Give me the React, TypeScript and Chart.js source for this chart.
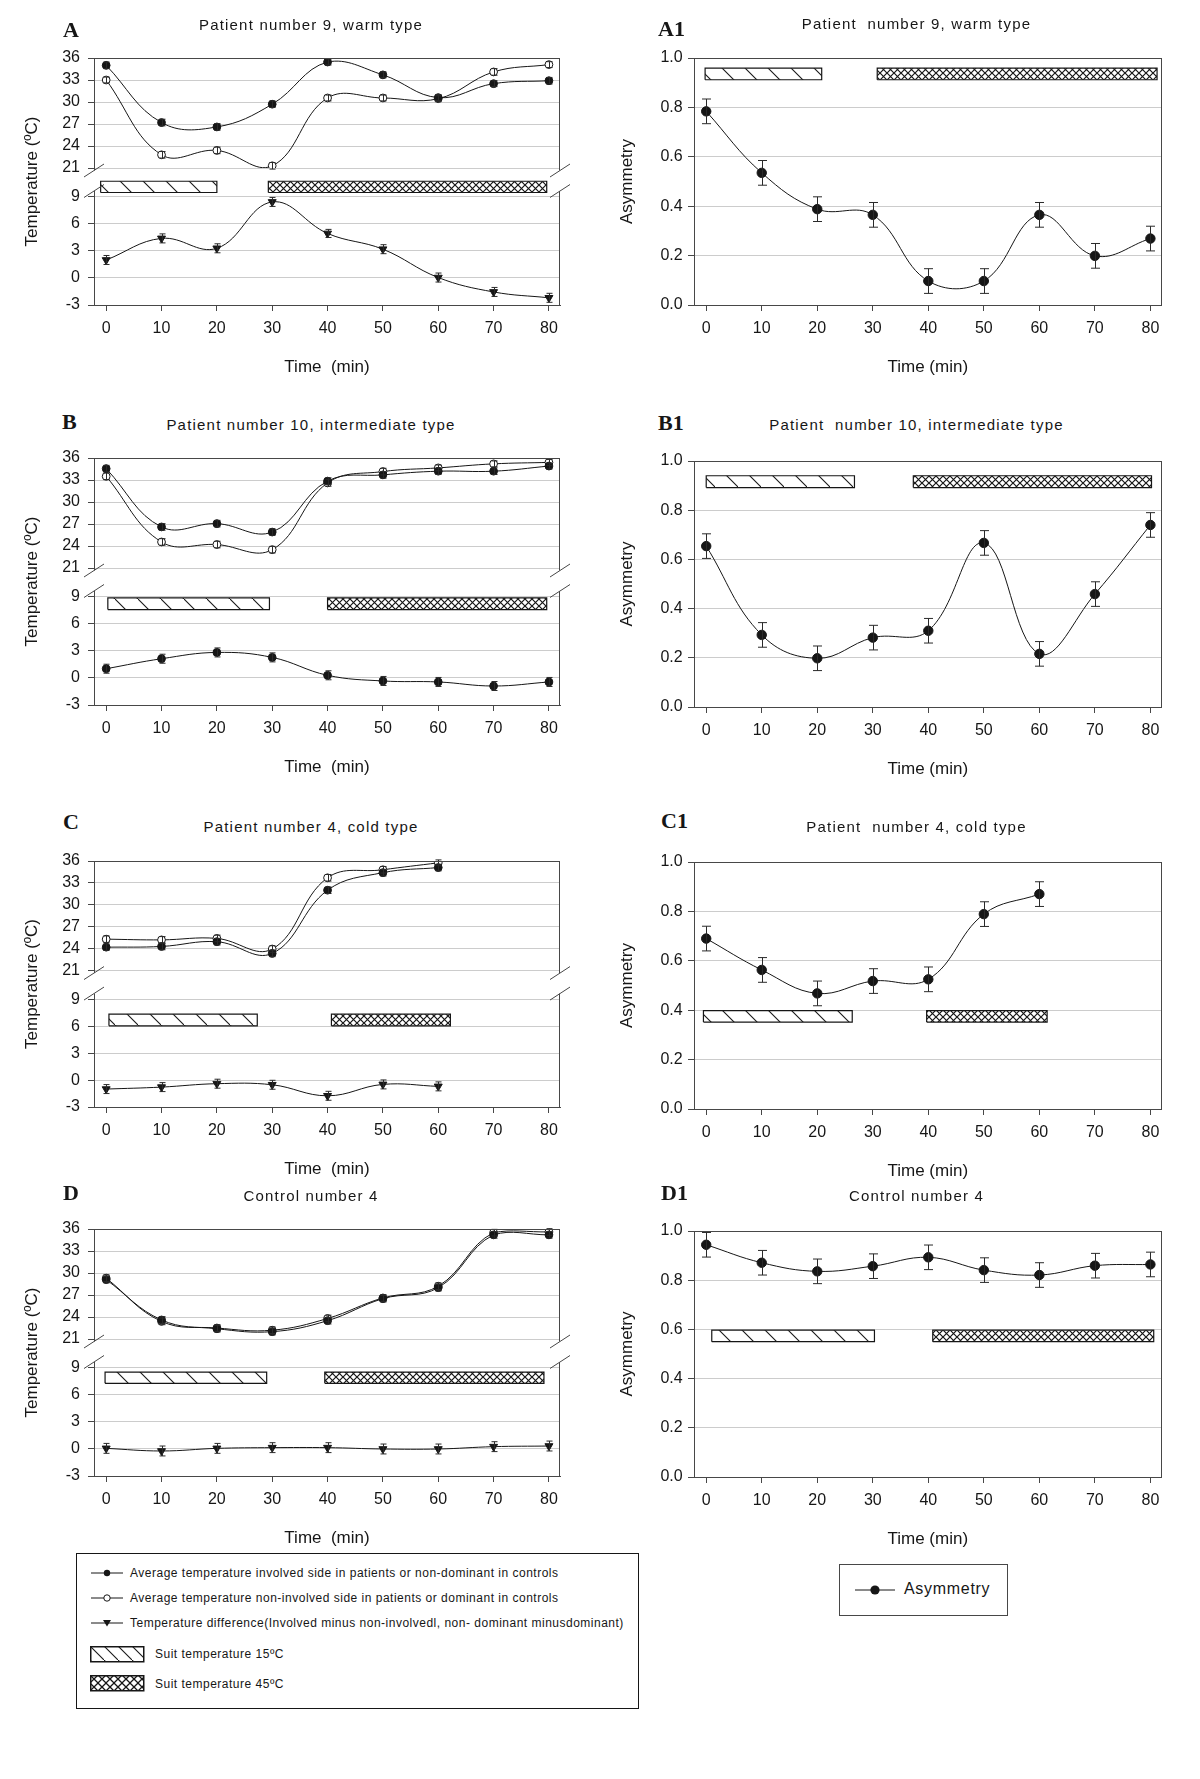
import React, { useEffect, useRef } from 'react';
import { Chart, registerables } from 'chart.js';

Chart.register(...registerables);

const FONT = "'Liberation Sans', Arial, Helvetica, sans-serif";
const SERIF = "'Liberation Serif', 'Times New Roman', Times, serif";
const INK = '#161616';
const AXIS = '#474747';
const GRID = '#cccccc';

Chart.defaults.font.family = FONT;

/* ------------------------------------------------------------------ */
/* Data                                         */
/* ------------------------------------------------------------------ */
const TIME = [0, 10, 20, 30, 40, 50, 60, 70, 80];
const TIME_C = [0, 10, 20, 30, 40, 50, 60];
const X_TICKS = [0, 10, 20, 30, 40, 50, 60, 70, 80];
const TEMP_TICKS_UPPER = [21, 24, 27, 30, 33, 36];
const TEMP_TICKS_LOWER = [-3, 0, 3, 6, 9];
const ASYM_TICKS = [0, 0.2, 0.4, 0.6, 0.8, 1.0];

// Panel A / A1 – patient 9, warm type
const A_INVOLVED = [35.0, 27.2, 26.6, 29.7, 35.45, 33.7, 30.6, 32.5, 32.9];
const A_NON_INVOLVED = [33.0, 22.8, 23.4, 21.3, 30.55, 30.55, 30.45, 34.1, 35.1];
const A_DIFFERENCE = [2.0, 4.4, 3.3, 8.45, 4.95, 3.2, 0.05, -1.55, -2.2];
const A_INVOLVED_SEM = [0.45, 0.45, 0.45, 0.45, 0.4, 0.4, 0.4, 0.4, 0.45];
const A_NON_INVOLVED_SEM = [0.4, 0.45, 0.45, 0.45, 0.4, 0.4, 0.4, 0.45, 0.4];
const A_DIFFERENCE_SEM = [0.5, 0.5, 0.5, 0.5, 0.45, 0.5, 0.5, 0.5, 0.5];
const A1_ASYMMETRY = [0.784, 0.535, 0.388, 0.365, 0.097, 0.097, 0.365, 0.199, 0.269];
const A1_ASYMMETRY_SEM = [0.05, 0.05, 0.05, 0.05, 0.05, 0.05, 0.05, 0.05, 0.05];
const A_SUIT_15 = [-1, 20];
const A_SUIT_45 = [29.3, 79.6];
const A1_SUIT_15 = [-0.2, 20.8];
const A1_SUIT_45 = [30.8, 81.2];

// Panel B / B1 – patient 10, intermediate type
const B_INVOLVED = [34.55, 26.6, 27.05, 25.9, 32.85, 33.7, 34.2, 34.2, 34.9];
const B_NON_INVOLVED = [33.5, 24.55, 24.2, 23.5, 32.6, 34.15, 34.65, 35.2, 35.4];
const B_DIFFERENCE = [1.03, 2.14, 2.84, 2.29, 0.3, -0.33, -0.44, -0.89, -0.44];
const B_INVOLVED_SEM = [0.45, 0.45, 0.45, 0.45, 0.45, 0.45, 0.45, 0.45, 0.4];
const B_NON_INVOLVED_SEM = [0.45, 0.45, 0.45, 0.45, 0.45, 0.45, 0.4, 0.4, 0.4];
const B_DIFFERENCE_SEM = [0.5, 0.5, 0.5, 0.5, 0.5, 0.5, 0.5, 0.5, 0.5];
const B1_ASYMMETRY = [0.654, 0.293, 0.198, 0.282, 0.31, 0.667, 0.216, 0.459, 0.74];
const B1_ASYMMETRY_SEM = [0.05, 0.05, 0.05, 0.05, 0.05, 0.05, 0.05, 0.05, 0.05];
const B_SUIT_15 = [0.3, 29.5];
const B_SUIT_45 = [40.0, 79.6];
const B1_SUIT_15 = [0.0, 26.7];
const B1_SUIT_45 = [37.3, 80.2];

// Panel C / C1 – patient 4, cold type
const C_INVOLVED = [24.2, 24.3, 24.95, 23.35, 32.0, 34.4, 35.1];
const C_NON_INVOLVED = [25.3, 25.2, 25.4, 23.95, 33.7, 34.8, 35.75];
const C_DIFFERENCE = [-1.0, -0.78, -0.4, -0.52, -1.75, -0.48, -0.7];
const C_INVOLVED_SEM = [0.45, 0.45, 0.45, 0.45, 0.45, 0.45, 0.45];
const C_NON_INVOLVED_SEM = [0.45, 0.45, 0.45, 0.45, 0.45, 0.45, 0.4];
const C_DIFFERENCE_SEM = [0.5, 0.5, 0.5, 0.5, 0.5, 0.5, 0.5];
const C1_ASYMMETRY = [0.69, 0.563, 0.468, 0.518, 0.525, 0.789, 0.87];
const C1_ASYMMETRY_SEM = [0.05, 0.05, 0.05, 0.05, 0.05, 0.05, 0.05];
const C_SUIT_15 = [0.5, 27.3];
const C_SUIT_45 = [40.7, 62.2];
const C1_SUIT_15 = [-0.5, 26.3];
const C1_SUIT_45 = [39.7, 61.4];

// Panel D / D1 – control 4
const D_INVOLVED = [29.1, 23.6, 22.4, 22.0, 23.5, 26.5, 28.0, 35.2, 35.2];
const D_NON_INVOLVED = [29.3, 23.4, 22.5, 22.2, 23.8, 26.6, 28.2, 35.5, 35.6];
const D_DIFFERENCE = [0.07, -0.22, 0.07, 0.15, 0.15, 0.0, 0.0, 0.26, 0.33];
const D_INVOLVED_SEM = [0.45, 0.45, 0.45, 0.45, 0.45, 0.45, 0.45, 0.45, 0.45];
const D_NON_INVOLVED_SEM = [0.45, 0.45, 0.45, 0.45, 0.45, 0.45, 0.45, 0.45, 0.45];
const D_DIFFERENCE_SEM = [0.55, 0.55, 0.55, 0.55, 0.55, 0.55, 0.55, 0.55, 0.55];
const D1_ASYMMETRY = [0.944, 0.871, 0.836, 0.857, 0.893, 0.841, 0.821, 0.859, 0.864];
const D1_ASYMMETRY_SEM = [0.05, 0.05, 0.05, 0.05, 0.05, 0.05, 0.05, 0.05, 0.05];
const D_SUIT_15 = [-0.2, 29.0];
const D_SUIT_45 = [39.5, 79.1];
const D1_SUIT_15 = [1.0, 30.3];
const D1_SUIT_45 = [40.8, 80.6];

const LEGEND_LABELS = [
  'Average temperature involved side in patients or non-dominant in controls',
  'Average temperature non-involved side in patients or dominant in controls',
  'Temperature difference(Involved minus non-involvedl, non- dominant minusdominant)',
  'Suit temperature 15ºC',
  'Suit temperature 45ºC',
];

/* ------------------------------------------------------------------ */
/* Layout                                                              */
/* ------------------------------------------------------------------ */
const X_MIN = -2.2;
const X_MAX = 82;
const TEMP_LOWER_MAX = 12.22;
const PAD_TOP = 20;
const X_AXIS_H = 75;

type TempSpec = {
  key: string;
  letter: string;
  title: string;
  time: number[];
  involved: number[];
  nonInvolved: number[];
  difference: number[];
  involvedErr: number[];
  nonInvolvedErr: number[];
  differenceErr: number[];
  diffMarker: 'triangle' | 'circle';
  suit15: number[];
  suit45: number[];
  plotTop: number;
  plotBottom: number;
  band: number[];
  titleY: number;
  letterX: number;
  letterY: number;
};

type AsymSpec = {
  key: string;
  letter: string;
  title: string;
  time: number[];
  values: number[];
  err: number[];
  suit15: number[];
  suit45: number[];
  plotTop: number;
  plotBottom: number;
  band: number[];
  titleY: number;
  letterX: number;
  letterY: number;
};

const TEMP_PANELS: TempSpec[] = [
  {
    key: 'A', letter: 'A', title: 'Patient number 9, warm type', time: TIME,
    involved: A_INVOLVED, nonInvolved: A_NON_INVOLVED, difference: A_DIFFERENCE,
    involvedErr: A_INVOLVED_SEM, nonInvolvedErr: A_NON_INVOLVED_SEM, differenceErr: A_DIFFERENCE_SEM,
    diffMarker: 'triangle', suit15: A_SUIT_15, suit45: A_SUIT_45,
    plotTop: 58, plotBottom: 305, band: [9.5, 10.75], titleY: 26, letterX: 63, letterY: 30,
  },
  {
    key: 'B', letter: 'B', title: 'Patient number 10, intermediate type', time: TIME,
    involved: B_INVOLVED, nonInvolved: B_NON_INVOLVED, difference: B_DIFFERENCE,
    involvedErr: B_INVOLVED_SEM, nonInvolvedErr: B_NON_INVOLVED_SEM, differenceErr: B_DIFFERENCE_SEM,
    diffMarker: 'circle', suit15: B_SUIT_15, suit45: B_SUIT_45,
    plotTop: 458, plotBottom: 705, band: [7.6, 8.9], titleY: 426, letterX: 62, letterY: 422,
  },
  {
    key: 'C', letter: 'C', title: 'Patient number 4, cold type', time: TIME_C,
    involved: C_INVOLVED, nonInvolved: C_NON_INVOLVED, difference: C_DIFFERENCE,
    involvedErr: C_INVOLVED_SEM, nonInvolvedErr: C_NON_INVOLVED_SEM, differenceErr: C_DIFFERENCE_SEM,
    diffMarker: 'triangle', suit15: C_SUIT_15, suit45: C_SUIT_45,
    plotTop: 861, plotBottom: 1107, band: [6.05, 7.35], titleY: 827.5, letterX: 63, letterY: 822,
  },
  {
    key: 'D', letter: 'D', title: 'Control number 4', time: TIME,
    involved: D_INVOLVED, nonInvolved: D_NON_INVOLVED, difference: D_DIFFERENCE,
    involvedErr: D_INVOLVED_SEM, nonInvolvedErr: D_NON_INVOLVED_SEM, differenceErr: D_DIFFERENCE_SEM,
    diffMarker: 'triangle', suit15: D_SUIT_15, suit45: D_SUIT_45,
    plotTop: 1229, plotBottom: 1476, band: [7.3, 8.55], titleY: 1196.5, letterX: 63, letterY: 1193,
  },
];

const ASYM_PANELS: AsymSpec[] = [
  {
    key: 'A1', letter: 'A1', title: 'Patient  number 9, warm type', time: TIME,
    values: A1_ASYMMETRY, err: A1_ASYMMETRY_SEM, suit15: A1_SUIT_15, suit45: A1_SUIT_45,
    plotTop: 58, plotBottom: 305, band: [0.912, 0.959], titleY: 24.5, letterX: 658, letterY: 29,
  },
  {
    key: 'B1', letter: 'B1', title: 'Patient  number 10, intermediate type', time: TIME,
    values: B1_ASYMMETRY, err: B1_ASYMMETRY_SEM, suit15: B1_SUIT_15, suit45: B1_SUIT_45,
    plotTop: 461, plotBottom: 707, band: [0.892, 0.94], titleY: 426, letterX: 658, letterY: 423,
  },
  {
    key: 'C1', letter: 'C1', title: 'Patient  number 4, cold type', time: TIME_C,
    values: C1_ASYMMETRY, err: C1_ASYMMETRY_SEM, suit15: C1_SUIT_15, suit45: C1_SUIT_45,
    plotTop: 862, plotBottom: 1109, band: [0.352, 0.398], titleY: 827.5, letterX: 661, letterY: 821,
  },
  {
    key: 'D1', letter: 'D1', title: 'Control number 4', time: TIME,
    values: D1_ASYMMETRY, err: D1_ASYMMETRY_SEM, suit15: D1_SUIT_15, suit45: D1_SUIT_45,
    plotTop: 1231, plotBottom: 1477, band: [0.55, 0.597], titleY: 1196.5, letterX: 661, letterY: 1193,
  },
];

/* ------------------------------------------------------------------ */
/* Patterns & plugins                                                  */
/* ------------------------------------------------------------------ */
type Patterns = { hatch: CanvasPattern | string; cross: CanvasPattern | string };

function makePatterns(): Patterns {
  const h = document.createElement('canvas');
  h.width = 23;
  h.height = 23;
  const hg = h.getContext('2d')!;
  hg.fillStyle = '#ffffff';
  hg.fillRect(0, 0, 23, 23);
  hg.strokeStyle = INK;
  hg.lineWidth = 1.1;
  hg.beginPath();
  hg.moveTo(-2, -2);
  hg.lineTo(25, 25);
  hg.stroke();

  const c = document.createElement('canvas');
  const s = 7;
  c.width = s;
  c.height = s;
  const cg = c.getContext('2d')!;
  cg.fillStyle = '#ffffff';
  cg.fillRect(0, 0, s, s);
  cg.strokeStyle = INK;
  cg.lineWidth = 1.2;
  cg.beginPath();
  cg.moveTo(-1, -1);
  cg.lineTo(s + 1, s + 1);
  cg.moveTo(s + 1, -1);
  cg.lineTo(-1, s + 1);
  cg.stroke();

  return {
    hatch: hg.createPattern(h, 'repeat') || '#fff',
    cross: cg.createPattern(c, 'repeat') || '#888',
  };
}

const errorBarsPlugin = {
  id: 'errorBars',
  afterDatasetsDraw(chart: any) {
    const ctx = chart.ctx;
    chart.data.datasets.forEach((ds: any, i: number) => {
      if (!ds.errors) return;
      const meta = chart.getDatasetMeta(i);
      const ys = chart.scales[meta.yAxisID];
      ctx.save();
      ctx.strokeStyle = '#2a2a2a';
      ctx.lineWidth = 1;
      meta.data.forEach((el: any, j: number) => {
        const v = ds.data[j].y;
        const e = ds.errors[j];
        const x = Math.round(el.x) + 0.5;
        const y1 = ys.getPixelForValue(v + e);
        const y2 = ys.getPixelForValue(v - e);
        const w = ds.capWidth / 2;
        ctx.beginPath();
        ctx.moveTo(x, y1);
        ctx.lineTo(x, y2);
        ctx.moveTo(x - w, y1);
        ctx.lineTo(x + w, y1);
        ctx.moveTo(x - w, y2);
        ctx.lineTo(x + w, y2);
        ctx.stroke();
      });
      ctx.restore();
    });
  },
};

function makeFramePlugin(withBreak: boolean) {
  return {
    id: 'frame',
    afterDraw(chart: any) {
      const { ctx, chartArea: a } = chart;
      ctx.save();
      ctx.strokeStyle = AXIS;
      ctx.lineWidth = 1;
      const top = Math.round(a.top) + 0.5;
      const right = Math.round(a.right) - 0.5;
      ctx.beginPath();
      ctx.moveTo(a.left, top);
      ctx.lineTo(a.right, top);
      ctx.stroke();
      if (!withBreak) {
        ctx.beginPath();
        ctx.moveTo(right, a.top);
        ctx.lineTo(right, a.bottom);
        ctx.stroke();
      } else {
        const y21 = chart.scales.yT.getPixelForValue(21);
        const c1 = y21 + 2.5;
        const c2 = y21 + 23;
        ctx.beginPath();
        ctx.moveTo(right, a.top);
        ctx.lineTo(right, c1);
        ctx.moveTo(right, c2);
        ctx.lineTo(right, a.bottom);
        ctx.stroke();
        ctx.fillStyle = '#ffffff';
        ctx.fillRect(a.left - 2, c1, 4, c2 - c1);
        ctx.beginPath();
        for (const x of [a.left, a.right]) {
          for (const c of [c1, c2]) {
            ctx.moveTo(x - 10, c + 6.5);
            ctx.lineTo(x + 10, c - 6.5);
          }
        }
        ctx.stroke();
      }
      ctx.restore();
    },
  };
}

/* ------------------------------------------------------------------ */
/* Chart configs                                                       */
/* ------------------------------------------------------------------ */
const tickFont = { family: FONT, size: 16 };
const axisTitleFont = { family: FONT, size: 17 };

function xScale(title: string) {
  return {
    type: 'linear',
    position: 'bottom',
    min: X_MIN,
    max: X_MAX,
    afterBuildTicks: (s: any) => {
      s.ticks = X_TICKS.map((v) => ({ value: v }));
    },
    afterFit: (s: any) => {
      s.height = X_AXIS_H;
    },
    grid: { display: true, drawOnChartArea: false, drawTicks: true, tickLength: 6, tickColor: AXIS, color: AXIS },
    border: { display: true, color: AXIS, width: 1 },
    ticks: { font: tickFont, color: INK, padding: 7.7, maxRotation: 0, autoSkip: false },
    title: { display: true, text: title, font: axisTitleFont, color: INK, padding: { top: 0, bottom: 2.5 } },
  };
}

const yGrid = { color: GRID, lineWidth: 1, drawTicks: true, tickLength: 6, tickColor: AXIS };
const yBorder = { display: true, color: AXIS, width: 1 };

function suitBar(label: string, period: number[], band: number[], axis: string, bg: any) {
  return {
    type: 'line',
    label,
    data: [
      { x: period[0], y: band[0] },
      { x: period[0], y: band[1] },
      { x: period[1], y: band[1] },
      { x: period[1], y: band[0] },
      { x: period[0], y: band[0] },
    ],
    yAxisID: axis,
    fill: 'shape',
    backgroundColor: bg,
    borderColor: INK,
    borderWidth: 1.2,
    pointRadius: 0,
    tension: 0,
  };
}

const commonOptions = {
  responsive: false,
  animation: false,
  events: [],
  plugins: {
    legend: { display: false },
    tooltip: { enabled: false },
    title: { display: false },
  },
};

function tempConfig(s: TempSpec, pat: Patterns): any {
  const pts = (vals: number[]) => s.time.map((t, i) => ({ x: t, y: vals[i] }));
  const series = (label: string, vals: number[], errs: number[], axis: string, mk: any) => ({
    type: 'line',
    label,
    data: pts(vals),
    errors: errs,
    capWidth: 6,
    yAxisID: axis,
    borderColor: INK,
    borderWidth: 1,
    tension: 0.4,
    fill: false,
    pointStyle: mk.shape,
    pointRotation: mk.rotation,
    pointRadius: mk.r,
    pointBackgroundColor: mk.fill,
    pointBorderColor: INK,
    pointBorderWidth: 1,
  });
  const diffMk =
    s.diffMarker === 'triangle'
      ? { shape: 'triangle', rotation: 180, r: 4.6, fill: INK }
      : { shape: 'circle', rotation: 0, r: 3.9, fill: INK };
  return {
    type: 'line',
    data: {
      datasets: [
        series(LEGEND_LABELS[0], s.involved, s.involvedErr, 'yT', { shape: 'circle', rotation: 0, r: 3.9, fill: INK }),
        series(LEGEND_LABELS[1], s.nonInvolved, s.nonInvolvedErr, 'yT', { shape: 'circle', rotation: 0, r: 3.9, fill: '#ffffff' }),
        series(LEGEND_LABELS[2], s.difference, s.differenceErr, 'yD', diffMk),
        suitBar(LEGEND_LABELS[3], s.suit15, s.band, 'yD', pat.hatch),
        suitBar(LEGEND_LABELS[4], s.suit45, s.band, 'yD', pat.cross),
      ],
    },
    options: {
      ...commonOptions,
      layout: { padding: { top: PAD_TOP, left: 0, right: 40, bottom: 0 } },
      scales: {
        x: xScale('Time  (min)'),
        yTitle: {
          type: 'linear',
          position: 'left',
          weight: 10,
          min: 0,
          max: 1,
          afterFit: (sc: any) => {
            sc.width = 45;
          },
          grid: { display: false, drawTicks: false },
          border: { display: false },
          ticks: { display: false },
          title: { display: true, text: 'Temperature (ºC)', font: axisTitleFont, color: INK, padding: { top: 22.5, bottom: 0 } },
        },
        yT: {
          type: 'linear',
          position: 'left',
          stack: 'temperature',
          stackWeight: 110,
          weight: 2,
          min: 21,
          max: 36,
          afterBuildTicks: (sc: any) => {
            sc.ticks = TEMP_TICKS_UPPER.map((v) => ({ value: v }));
          },
          afterFit: (sc: any) => {
            sc.width = 49;
          },
          grid: yGrid,
          border: yBorder,
          ticks: { font: tickFont, color: INK, padding: 8, autoSkip: false },
        },
        yD: {
          type: 'linear',
          position: 'left',
          stack: 'temperature',
          stackWeight: 137,
          weight: 1,
          min: -3,
          max: TEMP_LOWER_MAX,
          afterBuildTicks: (sc: any) => {
            sc.ticks = TEMP_TICKS_LOWER.map((v) => ({ value: v }));
          },
          afterFit: (sc: any) => {
            sc.width = 49;
          },
          grid: yGrid,
          border: yBorder,
          ticks: { font: tickFont, color: INK, padding: 8, autoSkip: false },
        },
      },
    },
    plugins: [errorBarsPlugin, makeFramePlugin(true)],
  };
}

function asymConfig(s: AsymSpec, pat: Patterns): any {
  const pts = s.time.map((t, i) => ({ x: t, y: s.values[i] }));
  return {
    type: 'line',
    data: {
      datasets: [
        {
          type: 'line',
          label: 'Asymmetry',
          data: pts,
          errors: s.err,
          capWidth: 9,
          yAxisID: 'y',
          borderColor: INK,
          borderWidth: 1,
          tension: 0.4,
          fill: false,
          pointStyle: 'circle',
          pointRadius: 4.7,
          pointBackgroundColor: INK,
          pointBorderColor: INK,
        },
        suitBar(LEGEND_LABELS[3], s.suit15, s.band, 'y', pat.hatch),
        suitBar(LEGEND_LABELS[4], s.suit45, s.band, 'y', pat.cross),
      ],
    },
    options: {
      ...commonOptions,
      layout: { padding: { top: PAD_TOP, left: 0, right: 38.5, bottom: 0 } },
      scales: {
        x: xScale('Time (min)'),
        y: {
          type: 'linear',
          position: 'left',
          min: 0,
          max: 1,
          afterBuildTicks: (sc: any) => {
            sc.ticks = ASYM_TICKS.map((v) => ({ value: v }));
          },
          afterFit: (sc: any) => {
            sc.width = 94;
          },
          grid: yGrid,
          border: yBorder,
          ticks: { font: tickFont, color: INK, padding: 5.3, autoSkip: false, callback: (v: any) => Number(v).toFixed(1) },
          title: { display: true, text: 'Asymmetry', font: axisTitleFont, color: INK, padding: { top: 17.5, bottom: 0 } },
        },
      },
    },
    plugins: [errorBarsPlugin, makeFramePlugin(false)],
  };
}

/* ------------------------------------------------------------------ */
/* Components                                                          */
/* ------------------------------------------------------------------ */
function ChartCanvas(props: { left: number; top: number; width: number; height: number; build: (p: Patterns) => any }) {
  const ref = useRef<HTMLCanvasElement>(null);
  const { left, top, width, height, build } = props;
  useEffect(() => {
    const chart = new Chart(ref.current as HTMLCanvasElement, build(makePatterns()));
    return () => chart.destroy();
  }, [build]);
  return (
    <canvas
      ref={ref}
      width={width}
      height={height}
      style={{ position: 'absolute', left, top, width, height, display: 'block' }}
    />
  );
}

function PanelText(props: { letter: string; letterX: number; letterY: number; title: string; titleX: number; titleY: number }) {
  const { letter, letterX, letterY, title, titleX, titleY } = props;
  return (
    <>
      <div
        style={{
          position: 'absolute',
          left: letterX,
          top: letterY - 13,
          height: 26,
          lineHeight: '26px',
          fontFamily: SERIF,
          fontWeight: 'bold',
          fontSize: 22,
          color: INK,
        }}
      >
        {letter}
      </div>
      <div
        style={{
          position: 'absolute',
          left: titleX - 300,
          width: 600,
          top: titleY - 11,
          height: 20,
          lineHeight: '20px',
          textAlign: 'center',
          fontFamily: FONT,
          fontSize: 15,
          letterSpacing: '1.2px',
          whiteSpace: 'pre',
          color: INK,
        }}
      >
        {title}
      </div>
    </>
  );
}

const tempBuilders = TEMP_PANELS.map((p) => (pat: Patterns) => tempConfig(p, pat));
const asymBuilders = ASYM_PANELS.map((p) => (pat: Patterns) => asymConfig(p, pat));

function MarkerSvg({ kind, left, cy }: { kind: string; left: number; cy: number }) {
  let mk: any = null;
  if (kind === 'filled') mk = <circle cx={17} cy={7} r={3.2} fill={INK} />;
  if (kind === 'open') mk = <circle cx={17} cy={7} r={3.2} fill="#fff" stroke={INK} strokeWidth={1} />;
  if (kind === 'triangle') mk = <polygon points="13,4 21,4 17,10.5" fill={INK} />;
  return (
    <svg width={34} height={14} style={{ position: 'absolute', left, top: cy - 7 }}>
      <line x1={1} y1={7} x2={33} y2={7} stroke={INK} strokeWidth={1} />
      {mk}
    </svg>
  );
}

function Swatch({ kind, left, top }: { kind: string; left: number; top: number }) {
  const id = kind === 'hatch' ? 'lgHatch' : 'lgCross';
  return (
    <svg width={55} height={17} style={{ position: 'absolute', left, top }}>
      <defs>
        {kind === 'hatch' ? (
          <pattern id={id} patternUnits="userSpaceOnUse" width={14} height={14}>
            <rect width={14} height={14} fill="#fff" />
            <path d="M-2,-2 L16,16" stroke={INK} strokeWidth={1.1} />
          </pattern>
        ) : (
          <pattern id={id} patternUnits="userSpaceOnUse" width={8} height={8}>
            <rect width={8} height={8} fill="#fff" />
            <path d="M-1,-1 L9,9 M9,-1 L-1,9" stroke={INK} strokeWidth={1.3} />
          </pattern>
        )}
      </defs>
      <rect x={0.75} y={0.75} width={53} height={15} fill={`url(#${id})`} stroke={INK} strokeWidth={1.5} />
    </svg>
  );
}

function LegendText({ left, cy, text, size, spacing }: { left: number; cy: number; text: string; size: number; spacing: number }) {
  return (
    <div
      style={{
        position: 'absolute',
        left,
        top: cy - 9,
        height: 18,
        lineHeight: '18px',
        fontFamily: FONT,
        fontSize: size,
        letterSpacing: `${spacing}px`,
        whiteSpace: 'pre',
        color: INK,
      }}
    >
      {text}
    </div>
  );
}

function MainLegend() {
  const rows = [
    { kind: 'filled', cy: 1573 },
    { kind: 'open', cy: 1598 },
    { kind: 'triangle', cy: 1623 },
  ];
  return (
    <>
      <div
        style={{
          position: 'absolute',
          left: 76,
          top: 1553,
          width: 563,
          height: 156,
          boxSizing: 'border-box',
          border: `1.5px solid ${INK}`,
        }}
      />
      {rows.map((r, i) => (
        <React.Fragment key={r.kind}>
          <MarkerSvg kind={r.kind} left={90} cy={r.cy} />
          <LegendText left={130} cy={r.cy} text={LEGEND_LABELS[i]} size={12} spacing={0.5} />
        </React.Fragment>
      ))}
      <Swatch kind="hatch" left={90} top={1646} />
      <LegendText left={155} cy={1654} text={LEGEND_LABELS[3]} size={12} spacing={0.5} />
      <Swatch kind="cross" left={90} top={1675} />
      <LegendText left={155} cy={1683.5} text={LEGEND_LABELS[4]} size={12} spacing={0.5} />
    </>
  );
}

function AsymLegend() {
  return (
    <>
      <div
        style={{
          position: 'absolute',
          left: 839,
          top: 1564,
          width: 169,
          height: 52,
          boxSizing: 'border-box',
          border: `1.5px solid ${AXIS}`,
        }}
      />
      <svg width={42} height={14} style={{ position: 'absolute', left: 854, top: 1582.5 }}>
        <line x1={1} y1={7} x2={41} y2={7} stroke={INK} strokeWidth={1} />
        <circle cx={21} cy={7} r={4.6} fill={INK} />
      </svg>
      <LegendText left={904} cy={1589} text="Asymmetry" size={16} spacing={0.7} />
    </>
  );
}

export default function App() {
  useEffect(() => {
    document.body.style.margin = '0';
  }, []);
  return (
    <div
      style={{
        position: 'absolute',
        left: 0,
        top: 0,
        width: 1200,
        height: 1779,
        background: '#ffffff',
        overflow: 'hidden',
      }}
    >
      {TEMP_PANELS.map((p, i) => (
        <React.Fragment key={p.key}>
          <ChartCanvas
            left={0}
            top={p.plotTop - PAD_TOP}
            width={600}
            height={p.plotBottom - p.plotTop + PAD_TOP + X_AXIS_H}
            build={tempBuilders[i]}
          />
          <PanelText letter={p.letter} letterX={p.letterX} letterY={p.letterY} title={p.title} titleX={311} titleY={p.titleY} />
        </React.Fragment>
      ))}
      {ASYM_PANELS.map((p, i) => (
        <React.Fragment key={p.key}>
          <ChartCanvas
            left={600}
            top={p.plotTop - PAD_TOP}
            width={600}
            height={p.plotBottom - p.plotTop + PAD_TOP + X_AXIS_H}
            build={asymBuilders[i]}
          />
          <PanelText letter={p.letter} letterX={p.letterX} letterY={p.letterY} title={p.title} titleX={916.5} titleY={p.titleY} />
        </React.Fragment>
      ))}
      <MainLegend />
      <AsymLegend />
    </div>
  );
}
